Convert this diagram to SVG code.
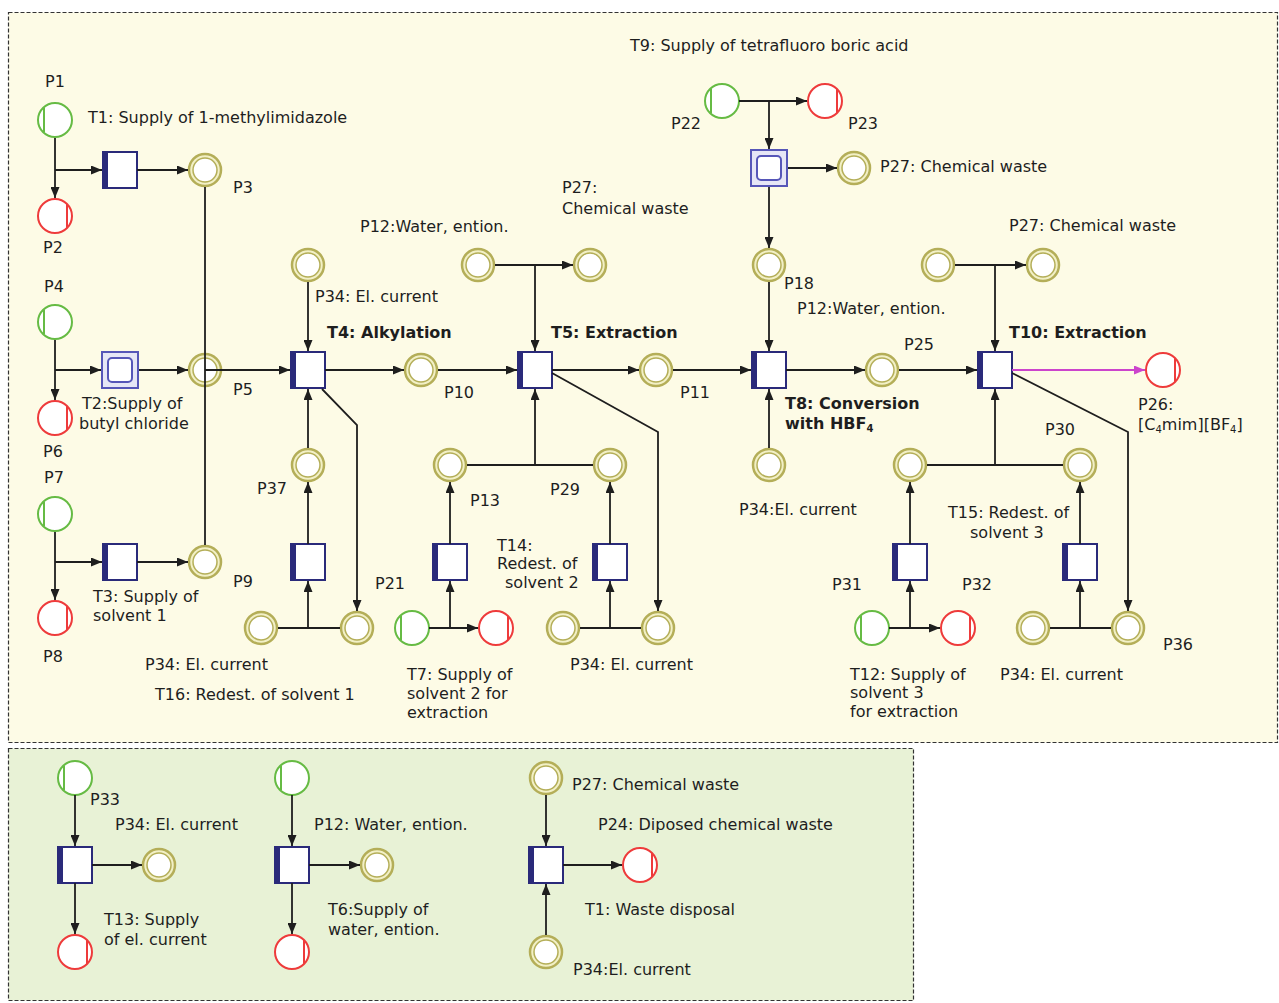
<svg xmlns="http://www.w3.org/2000/svg" xmlns:xlink="http://www.w3.org/1999/xlink" width="1279" height="1003" viewBox="0 0 1279 1003">
<style>
text{font-family:"DejaVu Sans","Liberation Sans",sans-serif;font-size:16px;fill:#1e1e1e}
.b{font-weight:bold}
.sub{font-size:10px}
.arc{fill:none;stroke:#1e1e1e;stroke-width:1.8}
.arr{marker-end:url(#ah)}
.mag{fill:none;stroke:#cc44cc;stroke-width:1.8;marker-end:url(#ahm)}
.panel{stroke:#333;stroke-width:1.2;stroke-dasharray:4 2}
</style>
<defs>
<marker id="ah" markerUnits="userSpaceOnUse" markerWidth="11" markerHeight="9" refX="11" refY="4.5" orient="auto"><path d="M0,0 L11,4.5 L0,9 z" fill="#1e1e1e"/></marker>
<marker id="ahm" markerUnits="userSpaceOnUse" markerWidth="11" markerHeight="9" refX="11" refY="4.5" orient="auto"><path d="M0,0 L11,4.5 L0,9 z" fill="#cc44cc"/></marker>
<!-- plain transition -->
<g id="tr"><rect x="-17" y="-18" width="34" height="36" fill="#fff" stroke="#2a2a7a" stroke-width="2"/><rect x="-17" y="-18" width="5" height="36" fill="#2a2a7a"/></g>
<!-- substituted (double) transition -->
<g id="trd"><rect x="-18" y="-18" width="36" height="36" fill="#e6e6f6" stroke="#5656b8" stroke-width="2"/><rect x="-12" y="-12" width="24" height="24" rx="4" fill="#fff" stroke="#5656b8" stroke-width="2"/></g>
<!-- source place -->
<g id="src"><circle r="17" fill="#fff" stroke="#66bb44" stroke-width="2"/><line x1="-11" y1="-12" x2="-11" y2="12" stroke="#66bb44" stroke-width="2"/></g>
<!-- sink place -->
<g id="snk"><circle r="17" fill="#fff" stroke="#ee3b3b" stroke-width="2"/><line x1="12" y1="-12" x2="12" y2="12" stroke="#ee3b3b" stroke-width="2"/></g>
<!-- ordinary place -->
<g id="pl"><circle r="16" fill="#f2f0c6" stroke="#b4ae58" stroke-width="2.5"/><circle r="12" fill="#fff" stroke="#b4ae58" stroke-width="1.5"/></g>
</defs>

<rect width="1279" height="1003" fill="#fff"/>
<rect class="panel" x="8.5" y="12.5" width="1269" height="730" fill="#fdfbe6"/>
<rect class="panel" x="8.5" y="748.5" width="905" height="252" fill="#e8f2d6"/>

<!-- process chain: supplies -->
<g id="P1"><use href="#src" x="55" y="120"/><text x="45" y="87">P1</text></g>
<g id="T1"><use href="#tr" x="120" y="170"/><text x="88" y="123">T1: Supply of 1-methylimidazole</text></g>
<g id="P2"><use href="#snk" x="55" y="216"/><text x="43" y="253">P2</text></g>
<g id="P3"><use href="#pl" x="205" y="170"/><text x="233" y="193">P3</text></g>
<g id="P4"><use href="#src" x="55" y="322"/><text x="44" y="292">P4</text></g>
<g id="T2"><use href="#trd" x="120" y="370"/><text x="82" y="409">T2:Supply of</text><text x="79" y="429">butyl chloride</text></g>
<g id="P6"><use href="#snk" x="55" y="418"/><text x="43" y="457">P6</text></g>
<g id="P5"><use href="#pl" x="205" y="370"/><text x="233" y="395">P5</text></g>
<g id="P7"><use href="#src" x="55" y="514"/><text x="44" y="483">P7</text></g>
<g id="T3"><use href="#tr" x="120" y="562"/><text x="93" y="602">T3: Supply of</text><text x="93" y="621">solvent 1</text></g>
<g id="P8"><use href="#snk" x="55" y="618"/><text x="43" y="662">P8</text></g>
<g id="P9"><use href="#pl" x="205" y="562"/><text x="233" y="587">P9</text></g>

<!-- alkylation -->
<g id="P34a"><use href="#pl" x="308" y="265"/><text x="315" y="302">P34: El. current</text></g>
<g id="T4"><use href="#tr" x="308" y="370"/><text class="b" x="327" y="338">T4: Alkylation</text></g>
<g id="P10"><use href="#pl" x="421" y="370"/><text x="444" y="398">P10</text></g>
<g id="P37"><use href="#pl" x="308" y="465"/><text x="257" y="494">P37</text></g>
<g id="T16"><use href="#tr" x="308" y="562"/><text x="155" y="700">T16: Redest. of solvent 1</text></g>
<g id="P34b"><use href="#pl" x="261" y="628"/><text x="145" y="670">P34: El. current</text></g>
<g id="P21"><use href="#pl" x="357" y="628"/><text x="375" y="589">P21</text></g>

<!-- first extraction -->
<g id="P12a"><use href="#pl" x="478" y="265"/><text x="360" y="232">P12:Water, ention.</text></g>
<g id="P27a"><use href="#pl" x="590" y="265"/><text x="562" y="193">P27:</text><text x="562" y="214">Chemical waste</text></g>
<g id="T5"><use href="#tr" x="535" y="370"/><text class="b" x="551" y="338">T5: Extraction</text></g>
<g id="P11"><use href="#pl" x="656" y="370"/><text x="680" y="398">P11</text></g>
<g id="P13"><use href="#pl" x="450" y="465"/><text x="470" y="506">P13</text></g>
<g id="P29"><use href="#pl" x="610" y="465"/><text x="550" y="495">P29</text></g>
<g id="T7"><use href="#tr" x="450" y="562"/><text x="407" y="680">T7: Supply of</text><text x="407" y="699">solvent 2 for</text><text x="407" y="718">extraction</text></g>
<g id="P7in"><use href="#src" x="412" y="628"/></g>
<g id="P7out"><use href="#snk" x="496" y="628"/></g>
<g id="T14"><use href="#tr" x="610" y="562"/><text x="497" y="551">T14:</text><text x="497" y="569">Redest. of</text><text x="505" y="588">solvent 2</text></g>
<g id="P34c"><use href="#pl" x="563" y="628"/><text x="570" y="670">P34: El. current</text></g>
<g id="P14r"><use href="#pl" x="658" y="628"/></g>

<!-- conversion -->
<g id="T9"><use href="#trd" x="769" y="168"/><text x="630" y="51">T9: Supply of tetrafluoro boric acid</text></g>
<g id="P22"><use href="#src" x="722" y="101"/><text x="671" y="129">P22</text></g>
<g id="P23"><use href="#snk" x="825" y="101"/><text x="848" y="129">P23</text></g>
<g id="P27b"><use href="#pl" x="854" y="168"/><text x="880" y="172">P27: Chemical waste</text></g>
<g id="P18"><use href="#pl" x="769" y="265"/><text x="784" y="289">P18</text><text x="797" y="314">P12:Water, ention.</text></g>
<g id="T8"><use href="#tr" x="769" y="370"/><text class="b" x="785" y="409">T8: Conversion</text><text class="b" x="785" y="429">with HBF<tspan class="sub" dy="3">4</tspan></text></g>
<g id="P34d"><use href="#pl" x="769" y="465"/><text x="739" y="515">P34:El. current</text></g>
<g id="P25"><use href="#pl" x="882" y="370"/><text x="904" y="350">P25</text></g>

<!-- second extraction -->
<g id="P12b"><use href="#pl" x="938" y="265"/></g>
<g id="P27c"><use href="#pl" x="1043" y="265"/><text x="1009" y="231">P27: Chemical waste</text></g>
<g id="T10"><use href="#tr" x="995" y="370"/><text class="b" x="1009" y="338">T10: Extraction</text></g>
<g id="P26"><use href="#snk" x="1163" y="370"/><text x="1138" y="410">P26:</text><text x="1138" y="430">[C<tspan class="sub" dy="3">4</tspan><tspan dy="-3">mim][BF</tspan><tspan class="sub" dy="3">4</tspan><tspan dy="-3">]</tspan></text></g>
<g id="P31s"><use href="#pl" x="910" y="465"/></g>
<g id="P30"><use href="#pl" x="1080" y="465"/><text x="1045" y="435">P30</text></g>
<g id="T12"><use href="#tr" x="910" y="562"/><text x="850" y="680">T12: Supply of</text><text x="850" y="698">solvent 3</text><text x="850" y="717">for extraction</text></g>
<g id="P31"><use href="#src" x="872" y="628"/><text x="832" y="590">P31</text></g>
<g id="P32"><use href="#snk" x="958" y="628"/><text x="962" y="590">P32</text></g>
<g id="T15"><use href="#tr" x="1080" y="562"/><text x="948" y="518">T15: Redest. of</text><text x="970" y="538">solvent 3</text></g>
<g id="P34e"><use href="#pl" x="1033" y="628"/><text x="1000" y="680">P34: El. current</text></g>
<g id="P36"><use href="#pl" x="1128" y="628"/><text x="1163" y="650">P36</text></g>

<!-- utility subnets -->
<g id="P33"><use href="#src" x="75" y="778"/><text x="90" y="805">P33</text></g>
<g id="T13"><use href="#tr" x="75" y="865"/><text x="104" y="925">T13: Supply</text><text x="104" y="945">of el. current</text></g>
<g id="P34f"><use href="#pl" x="159" y="865"/><text x="115" y="830">P34: El. current</text></g>
<g id="P33out"><use href="#snk" x="75" y="952"/></g>
<g id="P12src"><use href="#src" x="292" y="778"/></g>
<g id="T6"><use href="#tr" x="292" y="865"/><text x="328" y="915">T6:Supply of</text><text x="328" y="935">water, ention.</text></g>
<g id="P12c"><use href="#pl" x="377" y="865"/><text x="314" y="830">P12: Water, ention.</text></g>
<g id="P12out"><use href="#snk" x="292" y="952"/></g>
<g id="P27d"><use href="#pl" x="546" y="778"/><text x="572" y="790">P27: Chemical waste</text></g>
<g id="TW"><use href="#tr" x="546" y="865"/><text x="585" y="915">T1: Waste disposal</text></g>
<g id="P24"><use href="#snk" x="640" y="865"/><text x="598" y="830">P24: Diposed chemical waste</text></g>
<g id="P34g"><use href="#pl" x="546" y="952"/><text x="573" y="975">P34:El. current</text></g>

<g id="arcs">
<!-- supplies -->
<path class="arc arr" d="M55 138V198"/>
<path class="arc arr" d="M55 170H102"/>
<path class="arc arr" d="M137 170H188"/>
<path class="arc" d="M205 187V545"/>
<path class="arc arr" d="M55 340V400"/>
<path class="arc arr" d="M55 370H101"/>
<path class="arc arr" d="M139 370H188"/>
<path class="arc arr" d="M205 370H290"/>
<path class="arc arr" d="M55 532V600"/>
<path class="arc arr" d="M55 562H102"/>
<path class="arc arr" d="M137 562H188"/>
<!-- alkylation -->
<path class="arc arr" d="M308 282V351"/>
<path class="arc arr" d="M325 370H404"/>
<path class="arc arr" d="M308 448V389"/>
<path class="arc arr" d="M322 389L357 425V611"/>
<path class="arc arr" d="M308 544V482"/>
<path class="arc" d="M278 628H340"/>
<path class="arc arr" d="M308 628V581"/>
<!-- first extraction -->
<path class="arc arr" d="M438 370H517"/>
<path class="arc arr" d="M495 265H573"/>
<path class="arc arr" d="M535 265V351"/>
<path class="arc arr" d="M552 370H639"/>
<path class="arc arr" d="M552 373L658 432V611"/>
<path class="arc" d="M467 465H593"/>
<path class="arc arr" d="M535 465V389"/>
<path class="arc arr" d="M450 544V482"/>
<path class="arc arr" d="M429 628H478"/>
<path class="arc arr" d="M450 628V581"/>
<path class="arc arr" d="M610 544V482"/>
<path class="arc" d="M580 628H641"/>
<path class="arc arr" d="M610 628V581"/>
<!-- conversion -->
<path class="arc arr" d="M673 370H751"/>
<path class="arc arr" d="M739 101H807"/>
<path class="arc arr" d="M769 101V149"/>
<path class="arc arr" d="M788 168H837"/>
<path class="arc arr" d="M769 187V248"/>
<path class="arc arr" d="M769 282V351"/>
<path class="arc arr" d="M769 448V389"/>
<path class="arc arr" d="M786 370H865"/>
<!-- second extraction -->
<path class="arc arr" d="M899 370H977"/>
<path class="arc arr" d="M955 265H1026"/>
<path class="arc arr" d="M995 265V351"/>
<path class="mag" d="M1012 370H1145"/>
<path class="arc arr" d="M1012 373L1128 432V611"/>
<path class="arc" d="M927 465H1063"/>
<path class="arc arr" d="M995 465V389"/>
<path class="arc arr" d="M910 544V482"/>
<path class="arc arr" d="M889 628H940"/>
<path class="arc arr" d="M910 628V581"/>
<path class="arc arr" d="M1080 544V482"/>
<path class="arc" d="M1050 628H1111"/>
<path class="arc arr" d="M1080 628V581"/>
<!-- utility subnets -->
<path class="arc arr" d="M75 795V846"/>
<path class="arc arr" d="M92 865H142"/>
<path class="arc arr" d="M75 883V934"/>
<path class="arc arr" d="M292 795V846"/>
<path class="arc arr" d="M309 865H360"/>
<path class="arc arr" d="M292 883V934"/>
<path class="arc arr" d="M546 795V846"/>
<path class="arc arr" d="M563 865H622"/>
<path class="arc arr" d="M546 935V884"/>
</g>
</svg>
